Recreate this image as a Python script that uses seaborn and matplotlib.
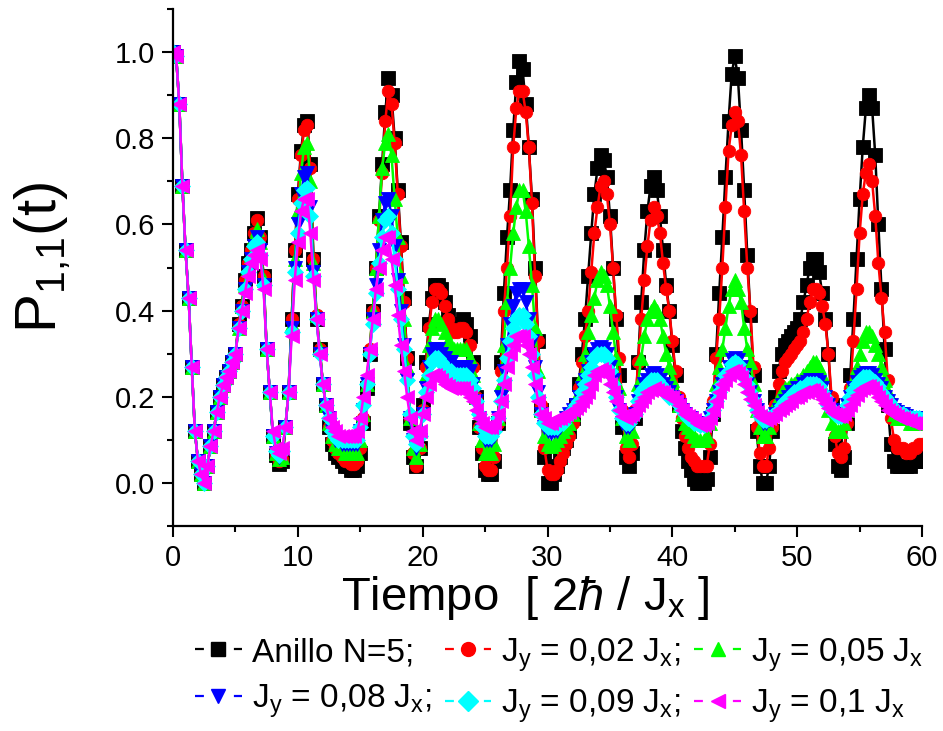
import numpy as np
import pandas as pd
import matplotlib
matplotlib.use("Agg")
import matplotlib.pyplot as plt
import seaborn as sns
from matplotlib.lines import Line2D

# ---------------- data (step 0.25) ----------------
tiempo = np.linspace(0, 60, 241)

anillo = [
    1.00, 0.99, 0.88, 0.69, 0.54, 0.43, 0.27, 0.12, 0.05, 0.02,
    0.00, 0.04, 0.085, 0.12, 0.165, 0.20, 0.227, 0.245, 0.26, 0.28,
    0.30, 0.37, 0.41, 0.47, 0.51, 0.54, 0.58, 0.615, 0.57, 0.48,
    0.31, 0.21, 0.11, 0.065, 0.045, 0.05, 0.13, 0.21, 0.38, 0.54,
    0.67, 0.77, 0.83, 0.84, 0.74, 0.52, 0.38, 0.31, 0.23, 0.18,
    0.13, 0.09, 0.07, 0.06, 0.05, 0.04, 0.04, 0.03, 0.03, 0.04,
    0.07, 0.14, 0.22, 0.30, 0.40, 0.50, 0.62, 0.74, 0.86, 0.94,
    0.90, 0.80, 0.68, 0.56, 0.43, 0.29, 0.14, 0.06, 0.04, 0.08,
    0.18, 0.28, 0.37, 0.43, 0.46, 0.46, 0.45, 0.42, 0.39, 0.37,
    0.36, 0.36, 0.37, 0.38, 0.37, 0.34, 0.28, 0.20, 0.13, 0.07,
    0.03, 0.02, 0.02, 0.05, 0.14, 0.28, 0.44, 0.57, 0.68, 0.82,
    0.93, 0.98, 0.96, 0.88, 0.78, 0.66, 0.50, 0.33, 0.17, 0.06,
    0.00, 0.00, 0.02, 0.04, 0.06, 0.08, 0.10, 0.12, 0.15, 0.18,
    0.23, 0.30, 0.38, 0.48, 0.58, 0.67, 0.73, 0.76, 0.75, 0.71,
    0.62, 0.50, 0.38, 0.25, 0.13, 0.06, 0.04, 0.07, 0.15, 0.28,
    0.42, 0.54, 0.63, 0.69, 0.71, 0.68, 0.62, 0.54, 0.46, 0.40,
    0.32, 0.25, 0.18, 0.12, 0.08, 0.05, 0.03, 0.01, 0.00, 0.00,
    0.00, 0.01, 0.06, 0.16, 0.30, 0.44, 0.57, 0.71, 0.84, 0.95,
    0.99, 0.94, 0.82, 0.68, 0.53, 0.39, 0.25, 0.12, 0.04, 0.00,
    0.00, 0.04, 0.12, 0.20, 0.26, 0.30, 0.32, 0.33, 0.34, 0.35,
    0.36, 0.38, 0.42, 0.46, 0.50, 0.52, 0.52, 0.49, 0.44, 0.38,
    0.30, 0.18, 0.09, 0.04, 0.03, 0.06, 0.14, 0.25, 0.38, 0.52,
    0.66, 0.78, 0.87, 0.90, 0.87, 0.76, 0.60, 0.45, 0.31, 0.18,
    0.09, 0.05, 0.04, 0.04, 0.04, 0.04, 0.04, 0.05, 0.05, 0.05,
    0.06,
]

jy_002 = [
    1.00, 0.99, 0.88, 0.69, 0.54, 0.43, 0.27, 0.12, 0.05, 0.02,
    0.00, 0.04, 0.085, 0.12, 0.165, 0.20, 0.227, 0.245, 0.26, 0.28,
    0.30, 0.37, 0.41, 0.47, 0.51, 0.54, 0.58, 0.61, 0.57, 0.48,
    0.31, 0.21, 0.11, 0.065, 0.05, 0.055, 0.13, 0.21, 0.38, 0.54,
    0.66, 0.76, 0.82, 0.83, 0.73, 0.52, 0.39, 0.31, 0.23, 0.18,
    0.13, 0.10, 0.08, 0.07, 0.06, 0.05, 0.05, 0.045, 0.045, 0.05,
    0.08, 0.15, 0.23, 0.31, 0.40, 0.50, 0.61, 0.72, 0.84, 0.91,
    0.88, 0.79, 0.67, 0.55, 0.42, 0.29, 0.15, 0.07, 0.04, 0.08,
    0.17, 0.27, 0.36, 0.42, 0.45, 0.45, 0.44, 0.41, 0.38, 0.36,
    0.35, 0.35, 0.36, 0.36, 0.35, 0.32, 0.27, 0.20, 0.13, 0.08,
    0.04, 0.03, 0.03, 0.06, 0.14, 0.26, 0.40, 0.50, 0.62, 0.78,
    0.87, 0.91, 0.91, 0.86, 0.78, 0.65, 0.48, 0.33, 0.18, 0.08,
    0.03, 0.02, 0.02, 0.03, 0.05, 0.07, 0.09, 0.11, 0.14, 0.18,
    0.22, 0.28, 0.34, 0.40, 0.49, 0.58, 0.64, 0.69, 0.70, 0.67,
    0.60, 0.50, 0.39, 0.29, 0.17, 0.08, 0.06, 0.09, 0.17, 0.28,
    0.38, 0.47, 0.55, 0.61, 0.64, 0.62, 0.58, 0.51, 0.45, 0.40,
    0.33, 0.26, 0.20, 0.15, 0.11, 0.08, 0.06, 0.05, 0.04, 0.04,
    0.04, 0.04, 0.09, 0.19, 0.29, 0.38, 0.50, 0.64, 0.77, 0.83,
    0.86, 0.84, 0.76, 0.63, 0.50, 0.40, 0.27, 0.13, 0.07, 0.04,
    0.04, 0.08, 0.13, 0.18, 0.23, 0.26, 0.28, 0.29, 0.30, 0.31,
    0.32, 0.33, 0.35, 0.38, 0.42, 0.45, 0.45, 0.44, 0.41, 0.37,
    0.30, 0.20, 0.11, 0.07, 0.06, 0.08, 0.14, 0.22, 0.33, 0.45,
    0.58, 0.67, 0.72, 0.74, 0.70, 0.62, 0.51, 0.43, 0.35, 0.24,
    0.15, 0.10, 0.08, 0.08, 0.08, 0.07, 0.07, 0.08, 0.08, 0.09,
    0.09,
]

jy_005 = [
    1.00, 0.99, 0.88, 0.69, 0.54, 0.43, 0.27, 0.12, 0.05, 0.02,
    0.00, 0.04, 0.085, 0.12, 0.165, 0.20, 0.227, 0.245, 0.26, 0.28,
    0.30, 0.36, 0.41, 0.46, 0.50, 0.53, 0.57, 0.59, 0.56, 0.47,
    0.31, 0.21, 0.11, 0.07, 0.055, 0.06, 0.13, 0.21, 0.37, 0.52,
    0.63, 0.72, 0.78, 0.79, 0.70, 0.51, 0.39, 0.31, 0.23, 0.18,
    0.14, 0.11, 0.09, 0.08, 0.08, 0.07, 0.07, 0.07, 0.07, 0.07,
    0.10, 0.16, 0.23, 0.31, 0.40, 0.50, 0.62, 0.73, 0.79, 0.81,
    0.76, 0.66, 0.57, 0.48, 0.38, 0.27, 0.15, 0.08, 0.06, 0.09,
    0.17, 0.25, 0.32, 0.36, 0.38, 0.38, 0.37, 0.35, 0.33, 0.32,
    0.31, 0.31, 0.31, 0.31, 0.31, 0.29, 0.25, 0.20, 0.14, 0.10,
    0.07, 0.07, 0.07, 0.09, 0.15, 0.23, 0.32, 0.42, 0.50, 0.58,
    0.64, 0.68, 0.68, 0.63, 0.55, 0.46, 0.36, 0.26, 0.17, 0.11,
    0.09, 0.085, 0.09, 0.10, 0.11, 0.12, 0.13, 0.14, 0.16, 0.18,
    0.21, 0.25, 0.30, 0.35, 0.39, 0.43, 0.47, 0.49, 0.48, 0.46,
    0.41, 0.35, 0.29, 0.22, 0.15, 0.11, 0.10, 0.12, 0.17, 0.23,
    0.29, 0.34, 0.38, 0.40, 0.41, 0.40, 0.38, 0.34, 0.30, 0.27,
    0.24, 0.21, 0.18, 0.16, 0.14, 0.13, 0.12, 0.11, 0.10, 0.10,
    0.10, 0.11, 0.14, 0.18, 0.23, 0.27, 0.31, 0.36, 0.41, 0.45,
    0.47, 0.45, 0.42, 0.36, 0.31, 0.28, 0.23, 0.17, 0.13, 0.11,
    0.11, 0.13, 0.16, 0.18, 0.20, 0.21, 0.22, 0.22, 0.23, 0.23,
    0.24, 0.24, 0.25, 0.26, 0.27, 0.28, 0.28, 0.27, 0.25, 0.21,
    0.17, 0.14, 0.12, 0.12, 0.12, 0.14, 0.17, 0.21, 0.24, 0.27,
    0.30, 0.33, 0.35, 0.35, 0.34, 0.32, 0.30, 0.27, 0.24, 0.21,
    0.18, 0.16, 0.15, 0.15, 0.15, 0.15, 0.14, 0.14, 0.14, 0.14,
    0.14,
]

jy_008 = [
    1.00, 0.99, 0.88, 0.69, 0.54, 0.43, 0.27, 0.12, 0.05, 0.02,
    0.00, 0.04, 0.085, 0.12, 0.165, 0.20, 0.227, 0.245, 0.26, 0.28,
    0.30, 0.36, 0.40, 0.45, 0.49, 0.52, 0.55, 0.57, 0.54, 0.46,
    0.31, 0.21, 0.11, 0.07, 0.06, 0.07, 0.13, 0.21, 0.36, 0.50,
    0.60, 0.67, 0.71, 0.72, 0.64, 0.49, 0.38, 0.30, 0.23, 0.18,
    0.15, 0.12, 0.10, 0.10, 0.09, 0.09, 0.09, 0.09, 0.09, 0.09,
    0.12, 0.17, 0.23, 0.30, 0.38, 0.46, 0.54, 0.61, 0.65, 0.66,
    0.62, 0.55, 0.47, 0.40, 0.32, 0.24, 0.15, 0.10, 0.08, 0.10,
    0.16, 0.22, 0.27, 0.30, 0.31, 0.31, 0.30, 0.29, 0.28, 0.28,
    0.27, 0.27, 0.27, 0.27, 0.27, 0.26, 0.23, 0.19, 0.15, 0.12,
    0.10, 0.10, 0.10, 0.11, 0.15, 0.20, 0.26, 0.32, 0.37, 0.41,
    0.44, 0.45, 0.45, 0.42, 0.38, 0.33, 0.27, 0.21, 0.16, 0.13,
    0.12, 0.115, 0.12, 0.12, 0.13, 0.14, 0.15, 0.16, 0.17, 0.18,
    0.20, 0.22, 0.24, 0.26, 0.28, 0.30, 0.31, 0.315, 0.31, 0.30,
    0.27, 0.24, 0.20, 0.17, 0.14, 0.13, 0.13, 0.14, 0.16, 0.19,
    0.21, 0.23, 0.24, 0.25, 0.255, 0.25, 0.24, 0.23, 0.22, 0.21,
    0.20, 0.19, 0.18, 0.17, 0.16, 0.15, 0.15, 0.14, 0.14, 0.135,
    0.135, 0.14, 0.15, 0.17, 0.19, 0.21, 0.23, 0.25, 0.27, 0.285,
    0.29, 0.285, 0.27, 0.25, 0.23, 0.21, 0.19, 0.17, 0.15, 0.14,
    0.14, 0.145, 0.15, 0.16, 0.17, 0.18, 0.19, 0.20, 0.21, 0.21,
    0.22, 0.22, 0.23, 0.235, 0.24, 0.24, 0.24, 0.235, 0.22, 0.20,
    0.18, 0.17, 0.16, 0.155, 0.155, 0.16, 0.18, 0.20, 0.22, 0.235,
    0.245, 0.25, 0.255, 0.255, 0.25, 0.24, 0.23, 0.22, 0.20, 0.19,
    0.18, 0.17, 0.165, 0.16, 0.16, 0.155, 0.15, 0.15, 0.15, 0.15,
    0.145,
]

jy_009 = [
    1.00, 0.99, 0.88, 0.69, 0.54, 0.43, 0.27, 0.12, 0.05, 0.02,
    0.00, 0.04, 0.085, 0.12, 0.165, 0.20, 0.227, 0.245, 0.26, 0.28,
    0.30, 0.36, 0.40, 0.45, 0.49, 0.52, 0.55, 0.56, 0.53, 0.46,
    0.31, 0.21, 0.11, 0.075, 0.065, 0.075, 0.13, 0.21, 0.35, 0.49,
    0.58, 0.65, 0.68, 0.685, 0.62, 0.48, 0.38, 0.30, 0.23, 0.18,
    0.15, 0.12, 0.11, 0.10, 0.10, 0.10, 0.10, 0.10, 0.10, 0.10,
    0.13, 0.18, 0.23, 0.30, 0.37, 0.44, 0.51, 0.57, 0.61, 0.62,
    0.58, 0.52, 0.45, 0.38, 0.31, 0.24, 0.16, 0.11, 0.09, 0.11,
    0.16, 0.21, 0.25, 0.28, 0.29, 0.29, 0.28, 0.27, 0.26, 0.26,
    0.25, 0.25, 0.25, 0.25, 0.25, 0.24, 0.22, 0.19, 0.16, 0.13,
    0.11, 0.11, 0.11, 0.12, 0.15, 0.19, 0.24, 0.29, 0.33, 0.36,
    0.38, 0.39, 0.39, 0.37, 0.34, 0.30, 0.25, 0.20, 0.16, 0.14,
    0.13, 0.13, 0.13, 0.13, 0.14, 0.14, 0.15, 0.16, 0.17, 0.18,
    0.19, 0.21, 0.23, 0.25, 0.27, 0.29, 0.30, 0.30, 0.30, 0.29,
    0.26, 0.23, 0.20, 0.17, 0.15, 0.14, 0.14, 0.15, 0.16, 0.19,
    0.21, 0.22, 0.23, 0.24, 0.24, 0.24, 0.23, 0.22, 0.21, 0.20,
    0.20, 0.19, 0.18, 0.17, 0.16, 0.15, 0.15, 0.14, 0.14, 0.135,
    0.135, 0.14, 0.15, 0.17, 0.19, 0.21, 0.23, 0.25, 0.26, 0.275,
    0.28, 0.275, 0.26, 0.245, 0.23, 0.21, 0.19, 0.17, 0.155, 0.145,
    0.145, 0.15, 0.155, 0.16, 0.17, 0.18, 0.19, 0.195, 0.20, 0.21,
    0.21, 0.22, 0.22, 0.23, 0.23, 0.23, 0.23, 0.225, 0.21, 0.20,
    0.18, 0.17, 0.16, 0.155, 0.155, 0.16, 0.18, 0.20, 0.215, 0.23,
    0.24, 0.245, 0.245, 0.245, 0.24, 0.235, 0.225, 0.21, 0.20, 0.19,
    0.18, 0.17, 0.165, 0.16, 0.16, 0.155, 0.15, 0.15, 0.15, 0.15,
    0.145,
]

jy_010 = [
    1.00, 0.99, 0.88, 0.69, 0.54, 0.43, 0.27, 0.12, 0.05, 0.02,
    0.00, 0.04, 0.085, 0.12, 0.165, 0.20, 0.227, 0.245, 0.26, 0.28,
    0.30, 0.36, 0.40, 0.44, 0.48, 0.51, 0.53, 0.54, 0.52, 0.45,
    0.31, 0.21, 0.12, 0.08, 0.07, 0.08, 0.13, 0.21, 0.34, 0.47,
    0.56, 0.63, 0.66, 0.66, 0.58, 0.47, 0.38, 0.30, 0.23, 0.18,
    0.15, 0.13, 0.12, 0.11, 0.11, 0.11, 0.11, 0.11, 0.11, 0.12,
    0.15, 0.20, 0.25, 0.31, 0.38, 0.45, 0.50, 0.54, 0.57, 0.57,
    0.52, 0.46, 0.39, 0.32, 0.26, 0.20, 0.15, 0.12, 0.10, 0.12,
    0.16, 0.20, 0.23, 0.25, 0.25, 0.245, 0.24, 0.23, 0.225, 0.22,
    0.22, 0.22, 0.22, 0.22, 0.21, 0.20, 0.19, 0.17, 0.15, 0.14,
    0.13, 0.13, 0.13, 0.14, 0.16, 0.19, 0.23, 0.27, 0.30, 0.32,
    0.34, 0.34, 0.34, 0.32, 0.30, 0.27, 0.23, 0.19, 0.16, 0.15,
    0.14, 0.14, 0.145, 0.15, 0.15, 0.155, 0.16, 0.165, 0.17, 0.175,
    0.18, 0.19, 0.20, 0.21, 0.23, 0.25, 0.26, 0.265, 0.26, 0.25,
    0.23, 0.21, 0.19, 0.17, 0.155, 0.15, 0.155, 0.16, 0.17, 0.18,
    0.19, 0.20, 0.21, 0.215, 0.22, 0.215, 0.21, 0.21, 0.205, 0.20,
    0.20, 0.19, 0.18, 0.17, 0.16, 0.155, 0.15, 0.145, 0.14, 0.135,
    0.135, 0.14, 0.15, 0.17, 0.19, 0.21, 0.23, 0.24, 0.25, 0.26,
    0.26, 0.255, 0.245, 0.23, 0.21, 0.195, 0.18, 0.165, 0.155, 0.15,
    0.145, 0.15, 0.155, 0.16, 0.17, 0.175, 0.18, 0.185, 0.19, 0.20,
    0.20, 0.205, 0.21, 0.21, 0.215, 0.215, 0.21, 0.205, 0.195, 0.185,
    0.175, 0.165, 0.16, 0.155, 0.155, 0.16, 0.17, 0.18, 0.195, 0.205,
    0.215, 0.22, 0.225, 0.225, 0.22, 0.21, 0.20, 0.19, 0.18, 0.17,
    0.165, 0.16, 0.155, 0.15, 0.15, 0.145, 0.145, 0.14, 0.14, 0.14,
    0.135,
]

etiquetas = [
    "Anillo N=5;",
    r"$\mathrm{J_y}$ = 0,02 $\mathrm{J_x}$;",
    r"$\mathrm{J_y}$ = 0,05 $\mathrm{J_x}$",
    r"$\mathrm{J_y}$ = 0,08 $\mathrm{J_x}$;",
    r"$\mathrm{J_y}$ = 0,09 $\mathrm{J_x}$;",
    r"$\mathrm{J_y}$ = 0,1 $\mathrm{J_x}$",
]
series = [anillo, jy_002, jy_005, jy_008, jy_009, jy_010]
colores = ["#000000", "#ff0000", "#00ff00", "#0000ff", "#00ffff", "#ff00ff"]
marcadores = ["s", "o", "^", "v", "D", "<"]
tamanos = [9.5, 9.0, 10.0, 10.0, 8.0, 10.0]

x_ticks = [0, 10, 20, 30, 40, 50, 60]
y_ticks = [0.0, 0.2, 0.4, 0.6, 0.8, 1.0]

# ---------------- style ----------------
sns.set_style("ticks")
plt.rcParams["font.family"] = ["Liberation Sans", "DejaVu Sans"]
plt.rcParams["mathtext.fontset"] = "custom"
plt.rcParams["mathtext.rm"] = "Liberation Sans"
plt.rcParams["mathtext.it"] = "Liberation Sans:italic"
plt.rcParams["mathtext.bf"] = "Liberation Sans:bold"
for k in ["text.color", "axes.labelcolor", "xtick.color", "ytick.color",
          "axes.edgecolor"]:
    plt.rcParams[k] = "black"

fig = plt.figure(figsize=(9.43, 7.31), dpi=100)
ax = fig.add_axes([0.1835, 0.2804, 0.7943, 0.7073])

for vals, col, mk, ms, lab in zip(series, colores, marcadores, tamanos, etiquetas):
    df = pd.DataFrame({"t": tiempo, "P": vals})
    sns.lineplot(data=df, x="t", y="P", ax=ax, color=col, marker=mk,
                 markersize=ms, markeredgewidth=0.6, markeredgecolor=col,
                 linewidth=1.8, label=lab, legend=False, sort=False,
                 estimator=None)

ax.set_xlim(0, 60)
ax.set_ylim(-0.1, 1.1)
ax.set_xticks(x_ticks)
ax.set_xticks([5, 15, 25, 35, 45, 55], minor=True)
ax.set_yticks(y_ticks)
ax.set_yticklabels([f"{v:.1f}" for v in y_ticks])
ax.set_yticks([-0.1, 0.1, 0.3, 0.5, 0.7, 0.9, 1.1], minor=True)
ax.tick_params(which="major", direction="out", length=8, width=1.5,
               labelsize=21, pad=5, colors="black")
ax.tick_params(which="minor", direction="out", length=4, width=1.5,
               colors="black")
for s in ["top", "right"]:
    ax.spines[s].set_visible(False)
for s in ["left", "bottom"]:
    ax.spines[s].set_linewidth(1.6)
    ax.spines[s].set_color("black")

ax.set_xlabel(r"Tiempo  [ 2$\mathit{ħ}$ / $\mathrm{J_x}$ ]", fontsize=34)
ax.xaxis.set_label_coords(0.47, -0.093)
ax.set_ylabel(r"$\mathrm{P_{1{,}1}}$(t)", fontsize=42)
ax.yaxis.set_label_coords(-0.135, 0.52)

# legend (row-wise order in 3 columns)
handles = []
for col, mk in zip(colores, marcadores):
    handles.append(Line2D([0], [0], color=col, marker=mk, markersize=10,
                          markeredgecolor=col, linewidth=1.6,
                          linestyle=(0, (4.0, 13.5))))
order = [0, 3, 1, 4, 2, 5]
fig.legend([handles[i] for i in order], [etiquetas[i] for i in order],
           ncol=3, loc="upper left", bbox_to_anchor=(195 / 943, 1 - 636 / 731),
           frameon=False, fontsize=24, handlelength=1.4, handletextpad=0.3,
           columnspacing=0.4, labelspacing=0.42, borderpad=0,
           borderaxespad=0)

fig.savefig("out.png", dpi=100)
